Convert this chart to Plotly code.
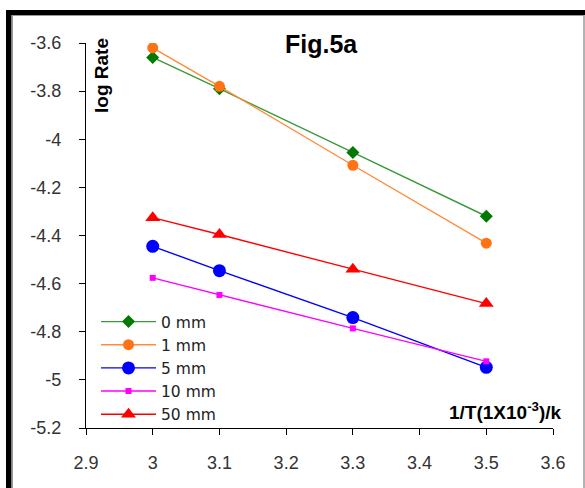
import plotly.graph_objects as go

# ---- data ----
x_vals = [3.0, 3.1, 3.3, 3.5]
y_0mm = [-3.66, -3.79, -4.055, -4.32]
y_1mm = [-3.62, -3.78, -4.108, -4.432]
y_5mm = [-4.445, -4.546, -4.741, -4.948]
y_10mm = [-4.576, -4.647, -4.786, -4.923]
y_50mm = [-4.326, -4.396, -4.54, -4.683]
series_names = ["0 mm", "1 mm", "5 mm", "10 mm", "50 mm"]
x_ticks = [2.9, 3.0, 3.1, 3.2, 3.3, 3.4, 3.5, 3.6]
x_tick_text = ["2.9", "3", "3.1", "3.2", "3.3", "3.4", "3.5", "3.6"]
y_ticks = [-5.2, -5.0, -4.8, -4.6, -4.4, -4.2, -4.0, -3.8, -3.6]
y_tick_text = ["-5.2", "-5", "-4.8", "-4.6", "-4.4", "-4.2", "-4", "-3.8", "-3.6"]

W, H = 585, 488
L, R, T, B = 86, 553, 43, 428

def px(xp):
    return (xp - L) / (R - L)

def py(yp):
    return (B - yp) / (B - T)

styles = [
    dict(line=dict(color="#3a9a3a", width=1.4), marker=dict(symbol="diamond", size=10, color="#007a00")),
    dict(line=dict(color="#ff8c3a", width=1.4), marker=dict(symbol="circle", size=11, color="#ff7315")),
    dict(line=dict(color="#0000ff", width=1.4), marker=dict(symbol="circle", size=13, color="#0000ff")),
    dict(line=dict(color="#ff00ff", width=1.4), marker=dict(symbol="square", size=6, color="#ff00ff")),
    dict(line=dict(color="#ff0000", width=1.4), marker=dict(symbol="triangle-up", size=13, color="#ff0000")),
]

fig = go.Figure()
for name, ys, st in zip(series_names, [y_0mm, y_1mm, y_5mm, y_10mm, y_50mm], styles):
    fig.add_trace(go.Scatter(x=x_vals, y=ys, name=name, mode="lines+markers",
                             line=st["line"], marker=st["marker"]))

font_family = "Liberation Sans, Arial, sans-serif"

fig.update_layout(
    width=W, height=H,
    margin=dict(l=L, r=W - R, t=T, b=H - B, pad=0),
    paper_bgcolor="white", plot_bgcolor="white",
    font=dict(family=font_family, size=18, color="#333333"),
    showlegend=True,
    legend=dict(x=px(96), y=py(305), xanchor="left", yanchor="top",
                bgcolor="rgba(0,0,0,0)",
                font=dict(family="DejaVu Sans, sans-serif", size=15.5, color="#222222"),
                tracegroupgap=0, itemwidth=55),
    xaxis=dict(range=[2.9, 3.6], tickvals=x_ticks, ticktext=x_tick_text,
               showgrid=False, zeroline=False, showline=True, linecolor="black",
               linewidth=1.2, ticks="outside", ticklen=6, tickcolor="black",
               tickfont=dict(size=18, color="#333333"), ticklabelstandoff=12),
    yaxis=dict(range=[-5.2, -3.6], tickvals=y_ticks, ticktext=y_tick_text,
               showgrid=False, zeroline=False, showline=True, linecolor="black",
               linewidth=1.2, ticks="outside", ticklen=6, tickcolor="black",
               tickfont=dict(size=18, color="#333333"), ticklabelstandoff=14),
)

fig.add_annotation(text="<b>Fig.5a</b>", x=px(321), y=py(44), xref="paper", yref="paper",
                   showarrow=False, font=dict(size=25, color="black"), xanchor="center", yanchor="middle")
fig.add_annotation(text="<b>log Rate</b>", x=px(101), y=py(76), xref="paper", yref="paper",
                   showarrow=False, textangle=-90, font=dict(size=19, color="black"),
                   xanchor="center", yanchor="middle")
fig.add_annotation(text="<b>1/T(1X10<sup>-3</sup>)/k</b>", x=px(564), y=py(411), xref="paper", yref="paper",
                   showarrow=False, font=dict(size=19, color="black"),
                   xanchor="right", yanchor="middle")

# frame
fig.add_shape(type="rect", xref="paper", yref="paper", x0=px(6), x1=px(585), y0=py(15), y1=py(10),
              fillcolor="black", line=dict(width=0), layer="above")
fig.add_shape(type="rect", xref="paper", yref="paper", x0=px(6), x1=px(11.5), y0=py(500), y1=py(10),
              fillcolor="black", line=dict(width=0), layer="above")
fig.add_shape(type="line", xref="paper", yref="paper", x0=px(12.5), x1=px(12.5), y0=py(500), y1=py(15),
              line=dict(color="#999999", width=1), layer="above")
fig.add_shape(type="line", xref="paper", yref="paper", x0=px(12), x1=px(584), y0=py(15.5), y1=py(15.5),
              line=dict(color="#999999", width=1), layer="above")
fig.add_shape(type="line", xref="paper", yref="paper", x0=px(584), x1=px(584), y0=py(500), y1=py(15),
              line=dict(color="#999999", width=1.5), layer="above")

fig.write_html("out.html")
